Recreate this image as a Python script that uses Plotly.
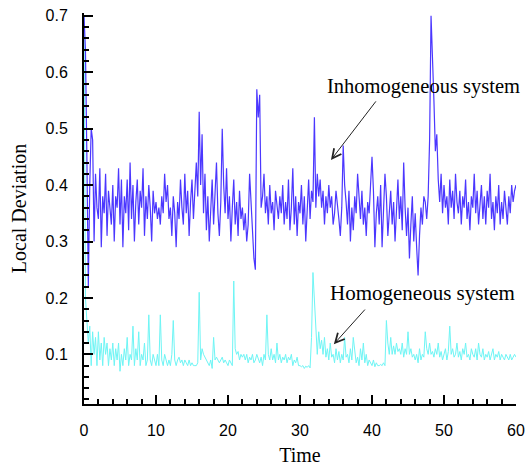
import plotly.graph_objects as go

t_start = 0.0
t_step = 0.2

inhomogeneous = [
    0.70, 0.64, 0.45, 0.22, 0.40, 0.50, 0.48, 0.30, 0.42, 0.36,
    0.34, 0.43, 0.29, 0.38, 0.35, 0.42, 0.31, 0.39, 0.36, 0.33,
    0.40, 0.30, 0.38, 0.36, 0.43, 0.33, 0.41, 0.29, 0.38, 0.35,
    0.41, 0.32, 0.44, 0.34, 0.40, 0.30, 0.37, 0.41, 0.33, 0.39,
    0.36, 0.43, 0.31, 0.38, 0.34, 0.40, 0.36, 0.30, 0.39, 0.35,
    0.37, 0.34, 0.36, 0.33, 0.38, 0.35, 0.42, 0.37, 0.40, 0.34,
    0.36, 0.31, 0.38, 0.35, 0.29, 0.37, 0.34, 0.41, 0.36, 0.33,
    0.42, 0.35, 0.39, 0.31, 0.37, 0.41, 0.34, 0.39, 0.44, 0.38,
    0.53, 0.40, 0.49, 0.35, 0.42, 0.32, 0.38, 0.30, 0.37, 0.41,
    0.33, 0.38, 0.44, 0.35, 0.31, 0.37, 0.50, 0.40, 0.35, 0.43,
    0.34, 0.38, 0.30, 0.36, 0.41, 0.33, 0.37, 0.31, 0.39, 0.34,
    0.36, 0.32, 0.35, 0.30, 0.33, 0.42, 0.36, 0.31, 0.27, 0.25,
    0.57, 0.52, 0.56, 0.36, 0.38, 0.42, 0.35, 0.38, 0.33, 0.40,
    0.35, 0.37, 0.32, 0.39, 0.36, 0.34, 0.38, 0.35, 0.40, 0.33,
    0.37, 0.34, 0.41, 0.32, 0.36, 0.43, 0.33, 0.38, 0.31, 0.37,
    0.35, 0.40, 0.33, 0.38, 0.30, 0.36, 0.41, 0.34, 0.39, 0.37,
    0.52, 0.36, 0.42, 0.38, 0.41, 0.36, 0.39, 0.33, 0.38, 0.35,
    0.40, 0.36, 0.38, 0.33, 0.35, 0.39, 0.37, 0.34, 0.31, 0.36,
    0.47, 0.40, 0.37, 0.33, 0.39, 0.30, 0.36, 0.32, 0.38, 0.35,
    0.42, 0.37, 0.34, 0.39, 0.33, 0.36, 0.31, 0.37, 0.35, 0.40,
    0.45, 0.39, 0.29, 0.35, 0.38, 0.33, 0.40, 0.29, 0.36, 0.42,
    0.38, 0.31, 0.35, 0.39, 0.33, 0.37, 0.30, 0.36, 0.41, 0.34,
    0.38, 0.32, 0.44, 0.36, 0.31, 0.36, 0.27, 0.33, 0.38, 0.30,
    0.35, 0.29, 0.24, 0.31, 0.36, 0.33, 0.38, 0.37, 0.34, 0.38,
    0.48, 0.70, 0.64, 0.55, 0.46, 0.49, 0.41, 0.37, 0.42, 0.35,
    0.40, 0.36, 0.38, 0.33, 0.41, 0.36, 0.39, 0.34, 0.42, 0.37,
    0.35, 0.39, 0.33, 0.38, 0.36, 0.41, 0.34, 0.37, 0.32, 0.38,
    0.36, 0.42, 0.35, 0.39, 0.33, 0.37, 0.40, 0.34, 0.38, 0.33,
    0.39, 0.36, 0.42, 0.34, 0.37, 0.32, 0.38, 0.35, 0.40, 0.33,
    0.37, 0.34, 0.39, 0.36, 0.33, 0.38, 0.35, 0.40, 0.37, 0.39,
    0.40,
]

homogeneous = [
    0.70, 0.20, 0.16, 0.12, 0.15, 0.08, 0.14, 0.10, 0.13, 0.08,
    0.14, 0.09, 0.12, 0.08, 0.13, 0.10, 0.12, 0.08, 0.11, 0.09,
    0.12, 0.08, 0.11, 0.09, 0.12, 0.07, 0.10, 0.08, 0.11, 0.09,
    0.13, 0.08, 0.10, 0.09, 0.15, 0.08, 0.11, 0.09, 0.14, 0.08,
    0.10, 0.09, 0.12, 0.08, 0.09, 0.17, 0.09, 0.08, 0.10, 0.09,
    0.08, 0.10, 0.08, 0.17, 0.09, 0.08, 0.10, 0.09, 0.08, 0.09,
    0.08, 0.10, 0.16, 0.09, 0.08, 0.09, 0.095, 0.085, 0.09, 0.08,
    0.09, 0.085, 0.08, 0.09, 0.08, 0.085, 0.08, 0.08, 0.08, 0.085,
    0.21, 0.09, 0.11, 0.10, 0.095, 0.09, 0.085, 0.08, 0.09, 0.075,
    0.13, 0.09, 0.095, 0.09, 0.085, 0.09, 0.095, 0.085, 0.09, 0.085,
    0.08, 0.09, 0.085, 0.08, 0.23, 0.11, 0.10, 0.105, 0.09, 0.10,
    0.095, 0.10, 0.09, 0.10, 0.085, 0.095, 0.09, 0.10, 0.085, 0.09,
    0.10, 0.09, 0.085, 0.095, 0.08, 0.10, 0.09, 0.17, 0.10, 0.09,
    0.11, 0.09, 0.10, 0.085, 0.12, 0.09, 0.10, 0.085, 0.095, 0.09,
    0.10, 0.085, 0.095, 0.09, 0.10, 0.08, 0.09, 0.085, 0.095, 0.08,
    0.08, 0.078, 0.08, 0.075, 0.079, 0.077, 0.08, 0.076, 0.13, 0.245,
    0.20, 0.15, 0.10, 0.14, 0.11, 0.125, 0.10, 0.13, 0.095, 0.11,
    0.09, 0.12, 0.095, 0.10, 0.085, 0.11, 0.09, 0.105, 0.085, 0.10,
    0.09, 0.13, 0.095, 0.10, 0.085, 0.11, 0.09, 0.13, 0.10, 0.085,
    0.095, 0.08, 0.11, 0.09, 0.12, 0.085, 0.10, 0.08, 0.09, 0.085,
    0.08, 0.09, 0.078, 0.085, 0.08, 0.08, 0.082, 0.08, 0.085, 0.08,
    0.16, 0.12, 0.10, 0.13, 0.10, 0.115, 0.10, 0.12, 0.105, 0.11,
    0.10, 0.12, 0.095, 0.11, 0.10, 0.14, 0.10, 0.11, 0.095, 0.10,
    0.09, 0.10, 0.085, 0.11, 0.09, 0.10, 0.095, 0.14, 0.11, 0.10,
    0.12, 0.10, 0.105, 0.095, 0.11, 0.10, 0.12, 0.095, 0.105, 0.09,
    0.10, 0.11, 0.09, 0.105, 0.15, 0.10, 0.11, 0.095, 0.10, 0.12,
    0.095, 0.105, 0.09, 0.11, 0.10, 0.12, 0.095, 0.10, 0.09, 0.11,
    0.10, 0.095, 0.11, 0.09, 0.12, 0.10, 0.095, 0.11, 0.09, 0.10,
    0.095, 0.105, 0.09, 0.10, 0.11, 0.09, 0.10, 0.095, 0.105, 0.09,
    0.10, 0.095, 0.09, 0.10, 0.095, 0.09, 0.10, 0.09, 0.095, 0.10,
    0.095,
]

time = [round(t_start + i * t_step, 2) for i in range(len(inhomogeneous))]

x_ticks = [0, 10, 20, 30, 40, 50, 60]
y_ticks = [0.1, 0.2, 0.3, 0.4, 0.5, 0.6, 0.7]

label_inhom = "Inhomogeneous system"
label_hom = "Homogeneous system"

fig = go.Figure()
fig.add_trace(go.Scatter(x=time, y=homogeneous, mode="lines",
                         line=dict(color="rgb(110,245,245)", width=1),
                         showlegend=False, name=label_hom))
fig.add_trace(go.Scatter(x=time, y=inhomogeneous, mode="lines",
                         line=dict(color="rgb(75,55,255)", width=1.2),
                         showlegend=False, name=label_inhom))

tickfont = dict(family="Liberation Sans, Arial", size=16, color="black")
titlefont = dict(family="Liberation Serif, Times New Roman", size=20, color="black")

fig.update_xaxes(range=[0, 60], tickvals=x_ticks, ticks="inside", ticklen=9, tickwidth=2,
                 tickcolor="black", showline=True, linecolor="black", linewidth=2,
                 showgrid=False, zeroline=False, tickfont=tickfont, ticklabelstandoff=11,
                 automargin=False,
                 minor=dict(dtick=2, ticks="inside", ticklen=5, tickwidth=1.5, tickcolor="black"),
                 title=dict(text="Time", font=titlefont, standoff=17))
fig.update_yaxes(range=[0.012, 0.705], tickvals=y_ticks, ticks="inside", ticklen=9, tickwidth=2,
                 tickcolor="black", showline=True, linecolor="black", linewidth=2,
                 showgrid=False, zeroline=False, tickfont=tickfont, tickformat=".1f",
                 ticklabelstandoff=11, automargin=False,
                 minor=dict(tickvals=[round(0.02 * k, 2) for k in range(1, 36)], ticks="inside",
                            ticklen=5, tickwidth=1.5, tickcolor="black"),
                 title=dict(text="Local Deviation", font=titlefont, standoff=14))

fig.add_annotation(x=33.5, y=0.574, xref="x", yref="y", text=label_inhom, showarrow=False,
                   xanchor="left", yanchor="middle",
                   font=dict(family="Liberation Serif, Times New Roman", size=20.5, color="black"))
fig.add_annotation(x=33.9, y=0.2087, xref="x", yref="y", text=label_hom, showarrow=False,
                   xanchor="left", yanchor="middle",
                   font=dict(family="Liberation Serif, Times New Roman", size=21, color="black"))
fig.add_annotation(x=34.3, y=0.4445, ax=40.7, ay=0.551, xref="x", yref="y", axref="x", ayref="y",
                   text="", showarrow=True, arrowhead=5, arrowsize=1.8, arrowwidth=1, arrowcolor="#222")
fig.add_annotation(x=34.7, y=0.118, ax=39.2, ay=0.182, xref="x", yref="y", axref="x", ayref="y",
                   text="", showarrow=True, arrowhead=5, arrowsize=1.8, arrowwidth=1, arrowcolor="#222")

fig.update_layout(width=525, height=466, margin=dict(l=84, r=9, t=13, b=62, autoexpand=False),
                  plot_bgcolor="white", paper_bgcolor="white")

fig.write_html("out.html")
